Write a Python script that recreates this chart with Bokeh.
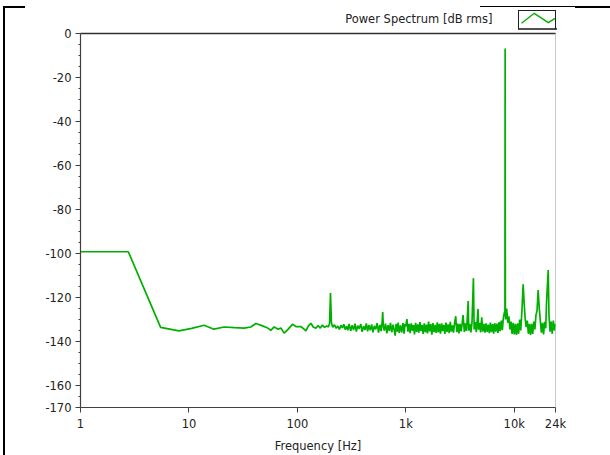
from bokeh.plotting import figure
from bokeh.models import FixedTicker, LogAxis, Label
from bokeh.embed import file_html
from bokeh.resources import INLINE

# ---- data ----
low_freq = [1, 2.76, 5.48, 8.09, 10.6, 13.8, 17.0, 21.1, 26.5, 32.3, 37.2, 41.4, 47.7, 52.0,
            56.9, 61.1, 66.5, 70.4, 75.5, 81.2, 90.3, 96.9]
low_db = [-99.2, -99.2, -133.6, -135.2, -134.0, -132.6, -134.4, -133.4, -133.7, -133.9, -133.4,
          -131.8, -132.9, -133.6, -134.9, -133.4, -134.4, -133.9, -136.2, -134.7, -132.1, -133.2]

mid_freq = [107.7, 113, 119.8, 126, 133.3, 140, 148, 155, 163, 170, 178, 186, 193, 198, 202, 206,
            212, 220, 228, 236, 244, 252, 260, 268, 276, 284, 292, 300, 310, 320, 330, 340, 350,
            360, 372, 384, 396, 408, 420, 432, 444, 456, 470, 484, 498, 512, 528, 544, 560, 576,
            592, 604, 612, 620, 632, 650, 668, 686, 704, 722, 742, 762, 780, 797, 814, 832, 850,
            868, 892, 916, 940, 964, 982]
mid_db = [-133.2, -134.0, -135.2, -133.0, -131.7, -133.4, -134.0, -132.8, -133.9, -132.5, -133.6,
          -132.9, -133.4, -131.8, -118.0, -131.5, -133.5, -132.4, -134.0, -133.0, -134.5, -132.6,
          -133.8, -132.2, -134.6, -133.1, -134.9, -132.0, -135.2, -132.6, -134.8, -131.9, -135.5,
          -132.8, -134.2, -132.0, -135.6, -133.0, -134.8, -131.8, -135.4, -132.5, -134.9, -132.2,
          -135.8, -132.9, -134.5, -131.7, -136.0, -132.4, -135.3, -131.5, -126.6, -132.8, -135.0,
          -131.9, -136.3, -132.6, -135.2, -131.5, -135.8, -132.3, -134.6, -137.3, -132.0, -135.5,
          -131.4, -136.1, -132.7, -135.9, -131.6, -136.4, -132.0]

high_freq = [1000, 1023, 1047, 1072, 1096, 1122, 1148, 1175, 1202, 1230,
             1259, 1288, 1318, 1349, 1380, 1413, 1445, 1479, 1514, 1549,
             1585, 1622, 1660, 1698, 1738, 1778, 1820, 1862, 1905, 1950,
             1995, 2042, 2089, 2138, 2188, 2239, 2291, 2344, 2399, 2455,
             2512, 2570, 2630, 2692, 2754, 2818, 2884, 2951, 3020, 3090,
             3162, 3236, 3311, 3370, 3467, 3548, 3631, 3760, 3802, 3890,
             3981, 4074, 4200, 4266, 4365, 4467, 4640, 4677, 4786, 4898,
             5012, 5129, 5248, 5370, 5495, 5623, 5754, 5888, 6026, 6166,
             6310, 6457, 6607, 6761, 6918, 7079, 7244, 7413, 7586, 7762,
             7943, 8128, 8200, 8240, 8280, 8318, 8511, 8710, 8913, 9120,
             9333, 9550, 9772, 10000, 10233, 10471, 10715, 10965, 11220, 11482,
             11749, 12080, 12303, 12589, 12882, 13183, 13490, 13804, 14125, 14454,
             14791, 15136, 15488, 15849, 16218, 16600, 16982, 17378, 17783, 18197,
             18621, 19055, 19498, 19853, 20560, 20893, 21380, 21878, 22387, 22909,
             23442, 24000]
high_db = [-133.0, -129.8, -135.5, -132.0, -136.2, -131.8, -135.0, -132.5, -136.8, -131.5,
           -135.6, -132.2, -136.0, -131.2, -135.2, -132.6, -136.5, -131.7, -135.8, -132.3,
           -136.3, -131.0, -135.4, -132.1, -136.9, -131.6, -135.7, -132.4, -136.1, -131.3,
           -135.9, -132.0, -136.4, -131.8, -135.3, -132.5, -136.6, -131.4, -135.6, -132.2,
           -136.2, -131.1, -135.5, -132.7, -136.0, -131.5, -128.5, -135.8, -131.9, -136.3,
           -132.0, -135.4, -131.6, -128.0, -135.7, -131.8, -135.2, -121.6, -135.0, -132.0,
           -135.9, -131.5, -111.2, -134.5, -131.2, -135.8, -125.2, -134.6, -131.5, -135.9,
           -129.0, -135.5, -132.0, -136.0, -131.7, -135.6, -132.3, -136.2, -131.4, -135.7,
           -132.1, -136.4, -131.6, -135.5, -131.9, -136.1, -131.2, -135.3, -130.5, -134.8,
           -129.0, -126.5, -128.5, -6.8, -124.5, -130.0, -125.0, -131.5, -128.5, -134.5,
           -131.0, -136.5, -131.5, -136.8, -132.0, -137.0, -131.8, -136.5, -130.0, -135.0,
           -126.5, -114.0, -121.6, -129.5, -133.5, -130.5, -136.5, -132.0, -137.0, -132.0,
           -136.5, -131.0, -134.5, -128.0, -126.0, -116.6, -124.5, -130.5, -136.0, -131.5,
           -136.8, -131.0, -134.0, -122.0, -107.5, -128.0, -135.5, -131.0, -136.5, -130.5,
           -135.0, -132.0]

x_ticks = [1, 10, 100, 1000, 10000, 24000]
x_tick_labels = ["1", "10", "100", "1k", "10k", "24k"]
y_ticks = [0, -20, -40, -60, -80, -100, -120, -140, -160, -170]
y_tick_labels = ["0", "-20", "-40", "-60", "-80", "-100", "-120", "-140", "-160", "-170"]
y_minor_ticks = [-5, -10, -15, -25, -30, -35, -45, -50, -55, -65, -70, -75, -85, -90, -95,
                 -105, -110, -115, -125, -130, -135, -145, -150, -155, -165]
series_name = "Power Spectrum [dB rms]"
x_title = "Frequency [Hz]"

freq = low_freq + mid_freq + high_freq
db = low_db + mid_db + high_db

GREEN = "#00b000"
FONT = "DejaVu Sans"
FS = "11.5px"
TXT = "#222222"

p = figure(width=610, height=455, x_axis_type="log", x_range=(1, 24000), y_range=(-170, 0),
           output_backend="svg", toolbar_location=None,
           min_border_left=80, min_border_right=55, min_border_top=33, min_border_bottom=45)
p.background_fill_color = "white"
p.border_fill_alpha = 0

# Page decoration drawn as CSS backgrounds of the figure element: the legend's glyph box
# (green zigzag in a framed box) and the outer window frame pieces.
zigzag_svg = ("url(\"data:image/svg+xml;utf8,<svg xmlns='http://www.w3.org/2000/svg' "
              "width='38' height='20'><polyline points='3.5,13.3 16.3,3.3 30.3,12.7 37,8.3' "
              "fill='none' stroke='%2300b000' stroke-width='1.4'/></svg>\") "
              "518px 10px / 38px 20px no-repeat")
bars = [  # (x, y, w, h, color)
    (518, 10, 38, 1, "#202020"), (518, 10, 1, 19, "#202020"), (555, 10, 1, 19, "#202020"),
    (518, 28, 39, 2, "#505050"),
    (3, 6, 2, 449, "#000"), (3, 6, 22, 2, "#000"), (480, 6, 130, 1, "#000"),
    (575, 6, 35, 2, "#000"),
]
layers = [zigzag_svg] + ["linear-gradient(%s,%s) %dpx %dpx / %dpx %dpx no-repeat" %
                         (c, c, x, y, w, h) for (x, y, w, h, c) in bars]
p.styles = {"background": ", ".join(layers) + ", #ffffff"}

p.outline_line_color = "#c8c8c8"
p.xgrid.visible = False
p.ygrid.visible = False

r = p.line(freq, db, line_color=GREEN, line_width=1.7)

xa = p.xaxis[0]
xa.ticker = FixedTicker(ticks=x_ticks, minor_ticks=[])
xa.major_label_overrides = dict(zip(x_ticks, x_tick_labels))
xa.axis_label = x_title
ya = p.yaxis[0]
ya.ticker = FixedTicker(ticks=y_ticks, minor_ticks=y_minor_ticks)
ya.major_label_overrides = dict(zip(y_ticks, y_tick_labels))

for ax in (xa, ya):
    ax.axis_line_color = "#404040"
    ax.axis_line_width = 1.2
    ax.major_tick_line_color = "#404040"
    ax.minor_tick_line_color = "#404040"
    ax.major_tick_in = 0
    ax.major_tick_out = 5
    ax.minor_tick_in = 0
    ax.minor_tick_out = 2
    ax.major_label_text_font = FONT
    ax.major_label_text_font_size = FS
    ax.major_label_text_color = TXT
    ax.major_label_standoff = 4
    ax.axis_label_text_font = FONT
    ax.axis_label_text_font_size = FS
    ax.axis_label_text_font_style = "normal"
    ax.axis_label_text_color = TXT
xa.axis_label_standoff = 5

top = LogAxis(ticker=FixedTicker(ticks=[], minor_ticks=[]), axis_line_color="#303030",
              axis_line_width=1.5, major_tick_line_color=None, minor_tick_line_color=None,
              major_label_text_font_size="0px")
p.add_layout(top, "above")

# legend text (series name), left of the glyph box
p.add_layout(Label(x=492, y=18, x_units="canvas", y_units="canvas", text=series_name,
                   text_align="right", text_baseline="middle", text_font=FONT,
                   text_font_size=FS, text_color=TXT), "above")

open("out.html", "w").write(file_html(p, INLINE))
